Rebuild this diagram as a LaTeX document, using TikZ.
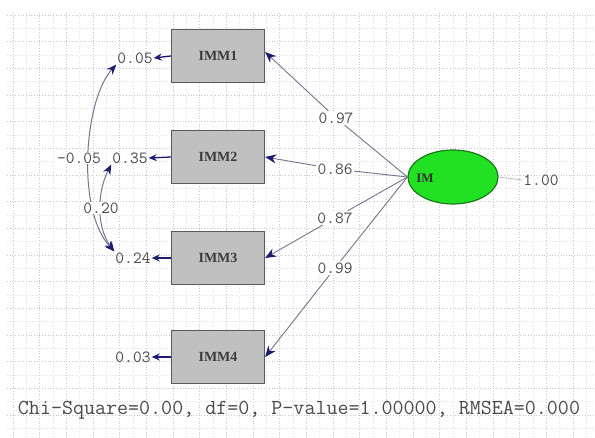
\documentclass[tikz,border=0pt]{standalone}
\usepackage{fontspec}
\setmainfont{Liberation Serif}
\usetikzlibrary{arrows.meta,shapes.geometric}

\definecolor{gridmajor}{HTML}{C8C8C8}
\definecolor{gridminor}{HTML}{E4E4E4}
\definecolor{boxfill}{HTML}{C0C0C0}
\definecolor{boxedge}{HTML}{5A5A5A}
\definecolor{latfill}{HTML}{22E022}
\definecolor{latedge}{HTML}{1A7A1A}
\definecolor{tipnavy}{HTML}{1C1C70}
\definecolor{pathline}{HTML}{74748E}
\definecolor{numtext}{HTML}{4A4A4A}

\tikzset{
  obsbox/.style={draw=boxedge, fill=boxfill, line width=1.3pt,
    minimum width=93pt, minimum height=53pt, inner sep=0pt,
    font=\fontsize{14}{14}\selectfont\bfseries, text=numtext!80!black},
  latent/.style={draw=latedge, fill=latfill, line width=1.2pt, ellipse,
    minimum width=90pt, minimum height=54pt, inner sep=0pt},
  numlbl/.style={font=\ttfamily\fontsize{17}{17}\selectfont, text=numtext,
    inner sep=1pt},
  loadlbl/.style={numlbl, fill=white, inner sep=1.5pt},
  loading/.style={draw=pathline, line width=0.9pt,
    -{Stealth[length=11pt,width=9pt,color=tipnavy]}},
  errarrow/.style={draw=tipnavy, line width=1.3pt,
    -{Stealth[length=8pt,width=7pt]}},
  covcurve/.style={draw=pathline, line width=1pt,
    {Stealth[length=10pt,width=8pt,color=tipnavy]}-{Stealth[length=10pt,width=8pt,color=tipnavy]}},
  gmaj/.style={draw=gridmajor, line width=0.7pt, dotted},
  gmin/.style={draw=gridminor, line width=0.5pt, dotted},
}

\begin{document}
\begin{tikzpicture}[x=1pt, y=-1pt]
\useasboundingbox (0,0) rectangle (595,437);
\fill[white] (0,0) rectangle (595,437);

% background grid
\foreach \k in {0,...,21} {
  \draw[gmin] (26.3+26.67*\k, 13) -- (26.3+26.67*\k, 437);
  \draw[gmaj] (13+26.67*\k, 13) -- (13+26.67*\k, 437);
}
\foreach \k in {0,...,15} {
  \draw[gmin] (7, 28.3+26.67*\k) -- (595, 28.3+26.67*\k);
  \draw[gmaj] (7, 15+26.67*\k) -- (595, 15+26.67*\k);
}

% observed indicators
\node[obsbox] (m1) at (218,56)  {IMM1};
\node[obsbox] (m2) at (218,157) {IMM2};
\node[obsbox] (m3) at (218,258) {IMM3};
\node[obsbox] (m4) at (218,357) {IMM4};

% latent factor
\node[latent] (im) at (453,177) {};
\node[font=\fontsize{13}{13}\selectfont\bfseries, text=numtext!70!black, inner sep=0pt]
  (imtxt) at (425,178) {IM};
\node[numlbl] (var) at (541,180) {1.00};
\draw[draw=pathline!60, line width=0.6pt] (im.east) -- (var.west);

% error variances
\node[numlbl] (e1) at (135,58)  {0.05};
\node[numlbl] (e2) at (130,158) {0.35};
\node[numlbl] (e3) at (133,258) {0.24};
\node[numlbl] (e4) at (133,357) {0.03};
\draw[errarrow] (m1.west) -- (e1.east);
\draw[errarrow] (m2.west) -- (e2.east);
\draw[errarrow] (m3.west) -- (e3.east);
\draw[errarrow] (m4.west) -- (e4.east);

% loadings
\node[loadlbl] (l1) at (336,118) {0.97};
\node[loadlbl] (l2) at (335,169) {0.86};
\node[loadlbl] (l3) at (335,218) {0.87};
\node[loadlbl] (l4) at (335,268) {0.99};
\draw[loading] (im.west) -- (l1) -- ([yshift=4pt]m1.east);
\draw[loading] (im.west) -- (l2) -- (m2.east);
\draw[loading] (im.west) -- (l3) -- (m3.east);
\draw[loading] (im.west) -- (l4) -- (m4.east);

% error covariances, labels set over the curves
\draw[covcurve] (e1.south west) .. controls (84,100) and (76,210) .. (e3.north west);
\draw[covcurve] (e2.south west) .. controls (98,190) and (95,225) .. (e3.north west);
\node[numlbl, fill=white] (c13) at (79,158) {-0.05};
\node[numlbl, fill=white] (c23) at (101,208) {0.20};

% fit statistics
\node[font=\ttfamily\fontsize{21.4}{21.4}\selectfont, text=numtext, inner sep=0pt]
  (fit) at (299,410) {Chi-Square=0.00, df=0, P-value=1.00000, RMSEA=0.000};
\end{tikzpicture}
\end{document}
